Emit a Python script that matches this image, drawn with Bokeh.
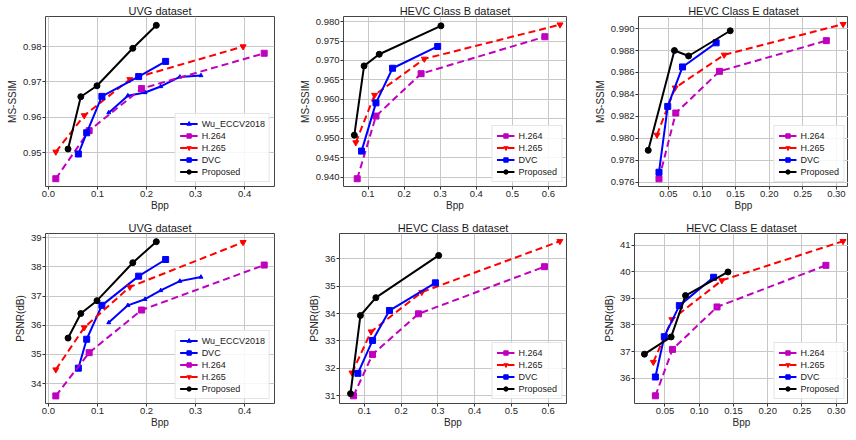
from bokeh.plotting import figure
from bokeh.models import Range1d, FixedTicker, PrintfTickFormatter
from bokeh.layouts import column, row
from bokeh.embed import file_html
from bokeh.resources import INLINE

# ---------------- data ----------------
# UVG dataset
wu_uvg_bpp = [0.123, 0.162, 0.197, 0.229, 0.268, 0.311]
wu_uvg_msssim = [0.9613, 0.9661, 0.9670, 0.9687, 0.9714, 0.9718]
wu_uvg_psnr = [36.09, 36.68, 36.89, 37.19, 37.51, 37.65]
h264_uvg_bpp = [0.015, 0.083, 0.190, 0.440]
h264_uvg_msssim = [0.9426, 0.9562, 0.9681, 0.9781]
h264_uvg_psnr = [33.58, 35.06, 36.52, 38.06]
h265_uvg_bpp = [0.015, 0.073, 0.166, 0.397]
h265_uvg_msssim = [0.9502, 0.9605, 0.9707, 0.9800]
h265_uvg_psnr = [34.48, 35.92, 37.31, 38.84]
dvc_uvg_bpp = [0.061, 0.078, 0.109, 0.184, 0.239]
dvc_uvg_msssim = [0.9496, 0.9556, 0.9659, 0.9715, 0.9758]
dvc_uvg_psnr = [34.53, 35.52, 36.68, 37.68, 38.25]
prop_uvg_bpp = [0.040, 0.066, 0.099, 0.172, 0.220]
prop_uvg_msssim = [0.9510, 0.9658, 0.9689, 0.9795, 0.9860]
prop_uvg_psnr = [35.56, 36.40, 36.84, 38.14, 38.86]

# HEVC Class B dataset
h264_b_bpp = [0.070, 0.122, 0.247, 0.590]
h264_b_msssim = [0.9396, 0.9557, 0.9666, 0.9761]
h264_b_psnr = [31.00, 32.51, 33.99, 35.71]
h265_b_bpp = [0.066, 0.118, 0.256, 0.632]
h265_b_msssim = [0.9489, 0.9611, 0.9704, 0.9792]
h265_b_psnr = [31.84, 33.34, 34.78, 36.64]
dvc_b_bpp = [0.082, 0.122, 0.168, 0.293]
dvc_b_msssim = [0.9467, 0.9591, 0.9680, 0.9736]
dvc_b_psnr = [31.82, 33.02, 34.11, 35.12]
prop_b_bpp = [0.062, 0.089, 0.131, 0.302]
prop_b_msssim = [0.9508, 0.9686, 0.9716, 0.9789]
prop_b_psnr = [31.08, 33.93, 34.58, 36.12]

# HEVC Class E dataset
h264_e_bpp = [0.036, 0.061, 0.126, 0.285]
h264_e_msssim = [0.9763, 0.9823, 0.9861, 0.9889]
h264_e_psnr = [35.33, 37.08, 38.68, 40.25]
h265_e_bpp = [0.033, 0.060, 0.133, 0.310]
h265_e_msssim = [0.9803, 0.9846, 0.9876, 0.9904]
h265_e_psnr = [36.60, 38.21, 39.68, 41.16]
dvc_e_bpp = [0.036, 0.049, 0.071, 0.121]
dvc_e_msssim = [0.9769, 0.9829, 0.9865, 0.9887]
dvc_e_psnr = [36.04, 37.56, 38.73, 39.80]
prop_e_bpp = [0.020, 0.059, 0.080, 0.142]
prop_e_msssim = [0.9789, 0.9880, 0.9875, 0.9898]
prop_e_psnr = [36.90, 37.55, 39.11, 40.00]

# tick values
uvg_xticks = [0.0, 0.1, 0.2, 0.3, 0.4]
b_xticks = [0.1, 0.2, 0.3, 0.4, 0.5, 0.6]
e_xticks = [0.05, 0.10, 0.15, 0.20, 0.25, 0.30]
uvg_msssim_ticks = [0.95, 0.96, 0.97, 0.98]
b_msssim_ticks = [0.940, 0.945, 0.950, 0.955, 0.960, 0.965, 0.970, 0.975, 0.980]
e_msssim_ticks = [0.976, 0.978, 0.980, 0.982, 0.984, 0.986, 0.988, 0.990]
uvg_psnr_ticks = [34, 35, 36, 37, 38, 39]
b_psnr_ticks = [31, 32, 33, 34, 35, 36]
e_psnr_ticks = [36, 37, 38, 39, 40, 41]

FONT = "Liberation Sans"

STYLES = {
    "Wu_ECCV2018": dict(color="#0000ff", dash="solid", marker="triangle", size=4),
    "H.264": dict(color="#bf00bf", dash="7 4", marker="square", size=6),
    "H.265": dict(color="#ff0000", dash="7 4", marker="inverted_triangle", size=6),
    "DVC": dict(color="#0000ff", dash="solid", marker="square", size=6),
    "Proposed": dict(color="#000000", dash="solid", marker="circle", size=6),
}


def make_fig(title, xr, yr, xticks, yticks, xfmt, yfmt, ylabel,
             width, height, lb, rb, tb, bb):
    p = figure(width=width, height=height, output_backend="svg",
               toolbar_location=None,
               x_range=Range1d(*xr), y_range=Range1d(*yr),
               min_border_left=lb, min_border_right=rb,
               min_border_top=tb, min_border_bottom=bb)
    p.title.text = title
    p.title.align = "center"
    p.title.text_font = FONT
    p.title.text_font_size = "11px"
    p.title.text_font_style = "normal"
    p.title.text_color = "#1a1a1a"
    p.title.standoff = 0
    p.title.offset = 0
    p.outline_line_color = "#444444"
    p.outline_line_width = 1
    p.background_fill_color = "white"
    p.border_fill_color = "white"
    for ax in (p.xaxis[0], p.yaxis[0]):
        ax.axis_line_color = None
        ax.major_tick_line_color = "#333333"
        ax.major_tick_out = 3
        ax.major_tick_in = 0
        ax.minor_tick_line_color = None
        ax.major_label_text_font = FONT
        ax.major_label_text_font_size = "9.5px"
        ax.major_label_text_color = "#262626"
        ax.major_label_standoff = 1
        ax.axis_label_text_font = FONT
        ax.axis_label_text_font_size = "10px"
        ax.axis_label_text_font_style = "normal"
        ax.axis_label_text_color = "#262626"
    p.xaxis.axis_label_standoff = 0
    p.yaxis.axis_label_standoff = 2
    p.xaxis.ticker = FixedTicker(ticks=xticks)
    p.yaxis.ticker = FixedTicker(ticks=yticks)
    p.xaxis.formatter = PrintfTickFormatter(format=xfmt)
    p.yaxis.formatter = PrintfTickFormatter(format=yfmt)
    p.xaxis.axis_label = "Bpp"
    p.yaxis.axis_label = ylabel
    p.grid.grid_line_color = "#c8c8c8"
    p.grid.grid_line_width = 1
    return p


def add_series(p, name, xs, ys):
    st = STYLES[name]
    p.line(xs, ys, line_color=st["color"], line_width=2,
           line_dash=st["dash"], legend_label=name)
    p.scatter(xs, ys, marker=st["marker"], size=st["size"],
              fill_color=st["color"], line_color=st["color"],
              legend_label=name)


def style_legend(p):
    lg = p.legend[0]
    lg.location = "bottom_right"
    lg.margin = 4
    lg.padding = 4
    lg.spacing = 1
    lg.label_height = 11
    lg.glyph_height = 11
    lg.glyph_width = 18
    lg.label_standoff = 4
    lg.label_text_font = FONT
    lg.label_text_font_size = "9px"
    lg.label_text_color = "#1a1a1a"
    lg.border_line_color = "#cccccc"
    lg.border_line_width = 1
    lg.background_fill_alpha = 0.85


ROW1_H = 215
ROW2_H = 217
W1, W2, W3 = 296, 295, 257

# ---- row 1: MS-SSIM ----
p1 = make_fig("UVG dataset", (-0.006, 0.461), (0.9404, 0.9885),
              uvg_xticks, uvg_msssim_ticks, "%.1f", "%.2f", "MS-SSIM",
              W1, ROW1_H, 45, 22, 16, 29)
add_series(p1, "Wu_ECCV2018", wu_uvg_bpp, wu_uvg_msssim)
add_series(p1, "H.264", h264_uvg_bpp, h264_uvg_msssim)
add_series(p1, "H.265", h265_uvg_bpp, h265_uvg_msssim)
add_series(p1, "DVC", dvc_uvg_bpp, dvc_uvg_msssim)
add_series(p1, "Proposed", prop_uvg_bpp, prop_uvg_msssim)
style_legend(p1)

p2 = make_fig("HEVC Class B dataset", (0.032, 0.65), (0.9376, 0.9813),
              b_xticks, b_msssim_ticks, "%.1f", "%.3f", "MS-SSIM",
              W2, ROW1_H, 43, 25, 16, 29)
add_series(p2, "H.264", h264_b_bpp, h264_b_msssim)
add_series(p2, "H.265", h265_b_bpp, h265_b_msssim)
add_series(p2, "DVC", dvc_b_bpp, dvc_b_msssim)
add_series(p2, "Proposed", prop_b_bpp, prop_b_msssim)
style_legend(p2)

p3 = make_fig("HEVC Class E dataset", (0.0055, 0.318), (0.9756, 0.9911),
              e_xticks, e_msssim_ticks, "%.2f", "%.3f", "MS-SSIM",
              W3, ROW1_H, 43, 0, 16, 29)
add_series(p3, "H.264", h264_e_bpp, h264_e_msssim)
add_series(p3, "H.265", h265_e_bpp, h265_e_msssim)
add_series(p3, "DVC", dvc_e_bpp, dvc_e_msssim)
add_series(p3, "Proposed", prop_e_bpp, prop_e_msssim)
style_legend(p3)

# ---- row 2: PSNR ----
p4 = make_fig("UVG dataset", (-0.006, 0.461), (33.32, 39.14),
              uvg_xticks, uvg_psnr_ticks, "%.1f", "%d", "PSNR(dB)",
              W1, ROW2_H, 45, 22, 18, 29)
add_series(p4, "Wu_ECCV2018", wu_uvg_bpp, wu_uvg_psnr)
add_series(p4, "DVC", dvc_uvg_bpp, dvc_uvg_psnr)
add_series(p4, "H.264", h264_uvg_bpp, h264_uvg_psnr)
add_series(p4, "H.265", h265_uvg_bpp, h265_uvg_psnr)
add_series(p4, "Proposed", prop_uvg_bpp, prop_uvg_psnr)
style_legend(p4)

p5 = make_fig("HEVC Class B dataset", (0.032, 0.65), (30.72, 36.92),
              b_xticks, b_psnr_ticks, "%.1f", "%d", "PSNR(dB)",
              W2, ROW2_H, 43, 25, 18, 29)
add_series(p5, "H.264", h264_b_bpp, h264_b_psnr)
add_series(p5, "H.265", h265_b_bpp, h265_b_psnr)
add_series(p5, "DVC", dvc_b_bpp, dvc_b_psnr)
add_series(p5, "Proposed", prop_b_bpp, prop_b_psnr)
style_legend(p5)

p6 = make_fig("HEVC Class E dataset", (0.0055, 0.318), (35.04, 41.45),
              e_xticks, e_psnr_ticks, "%.2f", "%d", "PSNR(dB)",
              W3, ROW2_H, 43, 0, 18, 29)
add_series(p6, "H.264", h264_e_bpp, h264_e_psnr)
add_series(p6, "H.265", h265_e_bpp, h265_e_psnr)
add_series(p6, "DVC", dvc_e_bpp, dvc_e_psnr)
add_series(p6, "Proposed", prop_e_bpp, prop_e_psnr)
style_legend(p6)

layout = column(row(p1, p2, p3, spacing=0), row(p4, p5, p6, spacing=0), spacing=0)

open("out.html", "w").write(file_html(layout, INLINE))
